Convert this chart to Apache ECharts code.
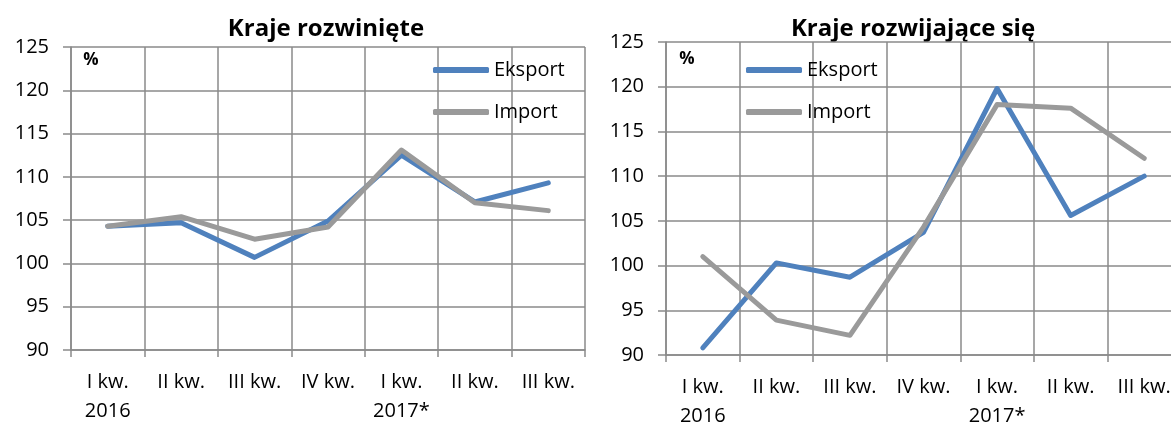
<!DOCTYPE html>
<html>
<head>
<meta charset="utf-8">
<script src="https://cdn.jsdelivr.net/npm/echarts@6/dist/echarts.min.js"></script>
<style>
  html, body { margin: 0; padding: 0; background: #fff; overflow: hidden; }
  #chart { width: 1171px; height: 423px; }
</style>
</head>
<body>
<div id="chart"></div>
<script>
// Quarter labels shared by both panels
const quarters = ['I kw.\n2016', 'II kw.', 'III kw.', 'IV kw.', 'I kw.\n2017*', 'II kw.', 'III kw.'];

// Developed countries (%)
const developedExport = [104.3, 104.7, 100.7, 104.9, 112.5, 107.1, 109.3];
const developedImport = [104.3, 105.4, 102.8, 104.2, 113.1, 107.0, 106.1];

// Developing countries (%)
const developingExport = [90.8, 100.3, 98.7, 103.7, 119.8, 105.6, 110.0];
const developingImport = [101.0, 93.9, 92.2, 104.3, 118.0, 117.6, 112.0];

const panelTitles = ['Kraje rozwinięte', 'Kraje rozwijające się'];
const seriesNames = ['Eksport', 'Import'];

const FONT = '"Open Sans", sans-serif';
const GRID_COLOR = '#8a8a8a';
const BLUE = '#4f81bd';
const GRAY = '#9a9a9a';

function xAxis(gridIndex) {
  return {
    type: 'category', gridIndex, data: quarters, boundaryGap: true,
    axisLine: { show: true, lineStyle: { color: GRID_COLOR, width: 1.5 } },
    axisTick: { show: true, length: 7, lineStyle: { color: GRID_COLOR, width: 1.5 } },
    axisLabel: { interval: 0, margin: 18, color: '#000', fontFamily: FONT, fontSize: 20, lineHeight: 29 },
    splitLine: { show: true, interval: 0, lineStyle: { color: GRID_COLOR, width: 1.5 } }
  };
}
function yAxis(gridIndex) {
  return {
    type: 'value', gridIndex, min: 90, max: 125, interval: 5,
    axisLine: { show: true, lineStyle: { color: GRID_COLOR, width: 1.5 } },
    axisTick: { show: true, length: 8, lineStyle: { color: GRID_COLOR, width: 1.5 } },
    axisLabel: { margin: 22, color: '#000', fontFamily: FONT, fontSize: 20 },
    splitLine: { show: true, lineStyle: { color: GRID_COLOR, width: 1.5 } }
  };
}
function line(name, data, idx, color) {
  return {
    name, type: 'line', data, xAxisIndex: idx, yAxisIndex: idx,
    symbol: 'none', smooth: false,
    lineStyle: { color, width: 5, cap: 'round', join: 'round' },
    itemStyle: { color }
  };
}
function legend(left) {
  return {
    orient: 'vertical', left, top: 60, padding: 0,
    itemWidth: 56, itemHeight: 6, itemGap: 22,
    icon: 'roundRect',
    data: seriesNames,
    textStyle: { color: '#000', fontFamily: FONT, fontSize: 20 }
  };
}
function label(text, x, y, size, weight) {
  return {
    type: 'text', x, y,
    style: {
      text, font: weight + ' ' + size + 'px ' + FONT, fill: '#000',
      textAlign: 'center', textVerticalAlign: 'middle', align: 'center', verticalAlign: 'middle'
    }
  };
}

const chart = echarts.init(document.getElementById('chart'));
chart.setOption({
  animation: false,
  backgroundColor: '#fff',
  grid: [
    { left: 71, top: 47, width: 514, height: 303, containLabel: false, outerBoundsMode: 'none' },
    // the right panel runs a little past the page edge
    { left: 666, top: 42, width: 515, height: 313, containLabel: false, outerBoundsMode: 'none' }
  ],
  xAxis: [xAxis(0), xAxis(1)],
  yAxis: [yAxis(0), yAxis(1)],
  legend: [legend(433), legend(746)],
  graphic: [
    label(panelTitles[0], 326, 29, 24, 'bold'),
    label(panelTitles[1], 913, 29, 24, 'bold'),
    label('%', 91, 60, 17, 'bold'),
    label('%', 687, 59, 17, 'bold')
  ],
  series: [
    line(seriesNames[0], developedExport, 0, BLUE),
    line(seriesNames[1], developedImport, 0, GRAY),
    line(seriesNames[0], developingExport, 1, BLUE),
    line(seriesNames[1], developingImport, 1, GRAY)
  ]
});
</script>
</body>
</html>
